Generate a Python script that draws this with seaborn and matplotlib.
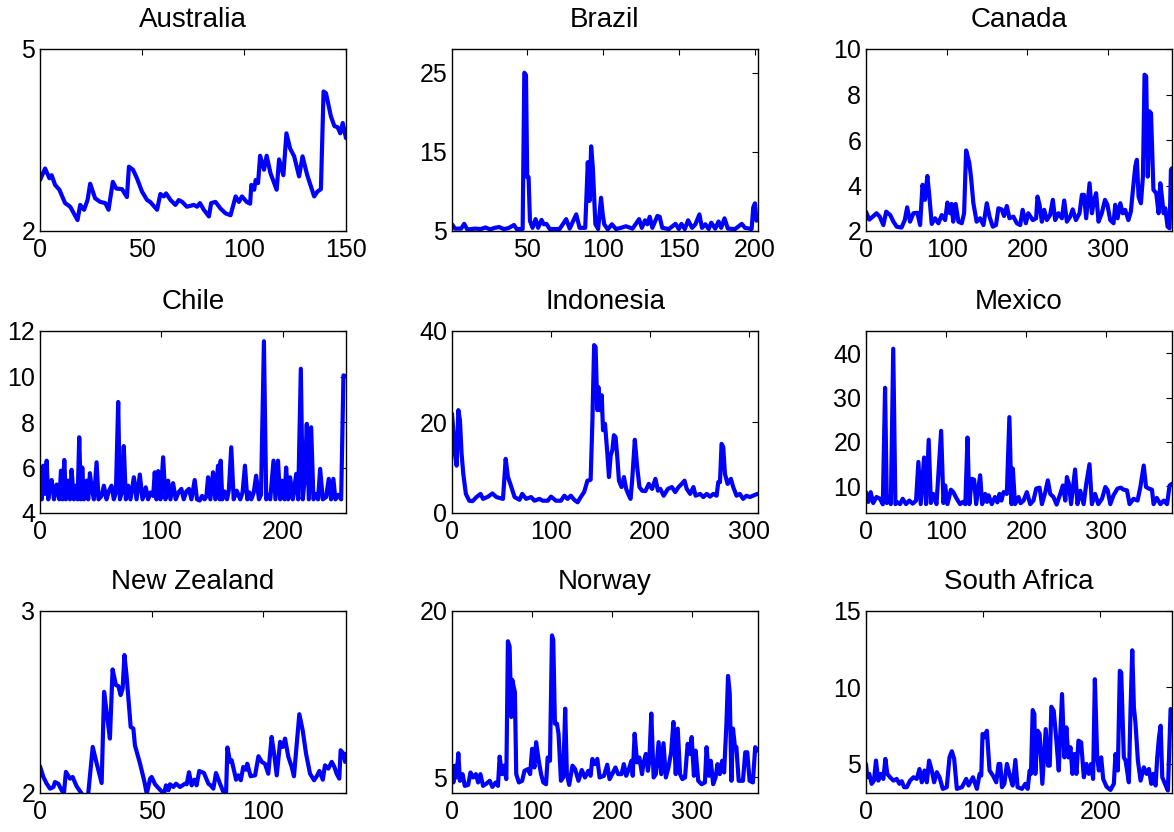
import numpy as np
import pandas as pd
import seaborn as sns
import matplotlib
matplotlib.use('Agg')
import matplotlib.pyplot as plt

# (time index, value) pairs, one list per country
australia = [(0, 2.84), (2.5, 3.03), (4.6, 2.87), (5.7, 2.92), (7.4, 2.76), (9.5, 2.68), (12.3, 2.46),
             (14.8, 2.40), (18.4, 2.18), (19.7, 2.43), (21.6, 2.35), (23.3, 2.51), (24.6, 2.78), (27, 2.54),
             (29.5, 2.48), (32, 2.46), (33.6, 2.35), (35.7, 2.81), (37.4, 2.70), (40.2, 2.69), (42.6, 2.56),
             (43.6, 3.06), (45.6, 3.01), (47.5, 2.87), (50, 2.65), (52.5, 2.51), (54, 2.48), (57.4, 2.35),
             (59, 2.61), (60.7, 2.57), (61.8, 2.62), (64, 2.51), (66.4, 2.43), (68, 2.51), (69.7, 2.48),
             (72, 2.40), (75.4, 2.43), (77, 2.40), (78.4, 2.46), (80.3, 2.35), (82.8, 2.24), (83.9, 2.46),
             (86, 2.48), (88.5, 2.37), (91, 2.29), (93.4, 2.26), (95.9, 2.57), (97.5, 2.48), (99, 2.57),
             (101.3, 2.48), (103, 2.45), (103.6, 2.76), (105, 2.68), (105.7, 2.84), (106.9, 2.79),
             (107.9, 3.24), (109.8, 3.01), (111.1, 3.24), (113, 2.95), (116, 2.68), (117.2, 3.18),
             (119.3, 2.92), (120.8, 3.61), (122.6, 3.36), (124.6, 3.23), (127, 2.90), (128.7, 3.23),
             (131, 2.92), (134.4, 2.57), (136, 2.65), (137.7, 2.69), (139, 4.30), (140.2, 4.27),
             (142.6, 3.89), (144.3, 3.73), (145.9, 3.71), (147.2, 3.61), (148.4, 3.78), (150, 3.53)]

brazil = [(1, 5.85), (3, 5.3), (7, 5.3), (9, 5.9), (11, 5.2), (16, 5.3), (20, 5.25), (23, 5.45), (26, 5.2),
          (29, 5.4), (32, 5.5), (35, 5.25), (38, 5.35), (41.7, 5.76), (43.5, 5.25), (47.4, 5.25), (48.5, 25),
          (49.6, 24.7), (50.4, 11.8), (51.3, 11.8), (52.2, 6.3), (53.9, 5.4), (55.9, 6.5), (57.6, 5.4),
          (59.8, 6.4), (61.3, 5.85), (63, 5.9), (65.2, 5.25), (71.7, 5.25), (76, 6.5), (78.3, 5.3),
          (82.6, 7.1), (84.8, 5.4), (88.5, 5.4), (90.2, 13.7), (91.3, 8.8), (92.4, 15.7), (93.5, 13),
          (95.2, 5.85), (97, 5.25), (98.9, 9.2), (100, 7.1), (101, 5.85), (103.3, 5.2), (106, 5.85),
          (108.7, 5.25), (112, 5.4), (115.2, 5.6), (119.6, 5.3), (123.9, 6.5), (125.7, 5.4), (127.8, 6.35),
          (129.3, 5.85), (130.9, 6.8), (132.6, 5.4), (135.9, 6.9), (137.4, 6.8), (139.1, 5.4), (143.5, 5.25),
          (147.8, 5.9), (150, 5.25), (151.7, 5.9), (153.9, 5.25), (156.1, 6.35), (158.7, 5.4), (160.9, 5.85),
          (163.5, 7.1), (165.2, 5.4), (167.4, 5.85), (169.6, 5.25), (171.3, 6.05), (173.9, 5.3), (176.1, 6.2),
          (177.8, 5.4), (180, 6.6), (182.2, 5.3), (187, 5.25), (191.3, 5.9), (193.5, 5.4), (197.8, 5.25),
          (198.9, 8), (200, 8.5), (201, 6.3)]

canada = [(0, 2.85), (4, 2.5), (9, 2.65), (13, 2.78), (17, 2.63), (21.5, 2.26), (25, 2.85), (30, 2.7),
          (34, 2.41), (38, 2.19), (44, 2.15), (48, 2.48), (51, 3.04), (54.5, 2.41), (58.7, 2.78), (63.6, 2.8),
          (67, 2.26), (70, 4.03), (73, 3.37), (76, 4.42), (78.5, 3.51), (81.4, 2.31), (85.5, 2.56),
          (89.7, 2.34), (93.8, 2.7), (98, 2.48), (100.8, 3.25), (104, 2.78), (106, 3.19), (108, 2.41),
          (111, 3.19), (114.5, 2.41), (118.6, 2.34), (121.5, 2.78), (124, 5.54), (126, 5.27), (128, 4.98),
          (130, 4.39), (133, 3.22), (137, 2.41), (141.3, 2.56), (145.5, 2.26), (149.6, 3.22), (153, 2.63),
          (157, 2.19), (161, 2.26), (164, 3.0), (168, 2.95), (171, 2.66), (174.4, 3.1), (177.7, 2.56),
          (182.6, 2.63), (186.8, 2.34), (191, 2.26), (194, 2.93), (198, 2.34), (201, 2.78), (206.6, 2.48),
          (210.7, 2.56), (212.4, 3.51), (215, 3.15), (217.8, 2.41), (220.7, 2.93), (224, 2.48), (228, 2.7),
          (231.4, 3.37), (234.3, 2.48), (238.4, 2.78), (242.6, 2.56), (245.5, 3.34), (248.8, 2.41),
          (252.9, 2.63), (256, 2.95), (260, 2.48), (264.5, 2.78), (267.4, 3.59), (270, 3.59), (272.7, 2.56),
          (276.9, 4.1), (279.8, 2.78), (282.6, 3.37), (285, 3.66), (288, 2.41), (292, 2.78), (296, 3.37),
          (299, 3.15), (302.5, 2.48), (306.6, 2.34), (308.7, 3.15), (311.6, 2.56), (315, 3.22), (318, 2.78),
          (321, 2.93), (325, 2.48), (328, 2.85), (330.6, 3.81), (333.5, 4.83), (335.5, 5.13), (337.6, 3.51),
          (340.5, 3.22), (343, 4.39), (345, 8.87), (347, 8.8), (349, 4.39), (351, 7.26), (353, 7.18),
          (356, 3.81), (359.5, 3.66), (362.4, 2.78), (364.5, 4.1), (366.5, 3.51), (368.6, 2.78), (370.7, 3.0),
          (373.5, 2.19), (376, 2.12), (377.7, 4.69), (379, 4.76)]

chile = [(0, 4.84), (0.5, 5.2), (1.4, 4.6), (2.7, 6.08), (4.1, 4.84), (5.5, 6.3), (6.8, 4.6), (8.2, 5.2),
         (9.6, 5.45), (11.5, 4.6), (13.7, 5.25), (15.9, 4.6), (17.3, 5.86), (18.6, 4.6), (20, 6.33),
         (21.4, 4.6), (23.3, 5.42), (24.7, 4.6), (26, 5.9), (27.9, 4.6), (29.6, 5.2), (31, 4.6), (32.3, 7.33),
         (33.7, 4.6), (34.8, 6.0), (36.2, 4.6), (38.4, 5.42), (39.7, 4.6), (41.1, 5.75), (42.5, 5.1),
         (44.4, 4.6), (46.6, 6.23), (48.2, 4.6), (50.7, 4.75), (52.6, 5.2), (54.8, 4.6), (56.6, 4.95),
         (58.9, 5.2), (60.8, 4.6), (62.5, 4.9), (64.4, 8.88), (65.8, 4.6), (67.3, 4.9), (69, 6.94),
         (70.7, 4.6), (72.6, 5.2), (74.5, 4.6), (77.3, 5.57), (79.5, 4.6), (82.2, 5.69), (84.4, 4.6),
         (87.1, 5.13), (89, 4.6), (91, 4.9), (93.2, 4.75), (94.5, 5.79), (95.9, 4.6), (97.3, 5.84),
         (99.2, 4.6), (101.4, 6.45), (103.3, 4.6), (105.5, 5.42), (107.4, 4.6), (109.6, 5.31), (111.8, 4.6),
         (114, 4.9), (116.4, 5.06), (118.4, 4.6), (120.5, 4.95), (122.7, 5.06), (124.7, 4.6), (127.4, 5.45),
         (129.3, 4.6), (131.5, 4.55), (133.5, 4.75), (135.5, 4.6), (137, 4.72), (138.4, 5.57), (140.3, 4.6),
         (142.5, 5.79), (144.4, 4.6), (146.6, 6.08), (148, 4.6), (148.8, 6.3), (150.1, 4.6), (152, 4.95),
         (154, 4.6), (155.5, 5.0), (157.5, 6.89), (159.5, 4.6), (162, 4.98), (164.9, 4.6), (166.8, 4.9),
         (168.8, 6.08), (170.7, 4.6), (172.5, 4.9), (174, 4.6), (176, 4.9), (178, 5.64), (180.3, 4.6),
         (182, 4.8), (184.4, 11.55), (186.3, 4.6), (188, 4.8), (189.6, 4.6), (192.3, 6.3), (193.9, 4.6),
         (196, 6.3), (197.8, 4.6), (199.5, 5.42), (201.4, 4.6), (202.7, 6.0), (204.4, 4.6), (206, 5.57),
         (208.2, 4.6), (211, 5.72), (212.6, 4.6), (214.8, 10.34), (216.4, 4.6), (218, 5.5), (219.7, 7.92),
         (221.4, 4.6), (223.3, 7.77), (225.2, 4.6), (227.4, 4.84), (229, 4.6), (230.7, 5.94), (232.9, 4.6),
         (235.6, 4.7), (237.8, 5.5), (239.7, 4.6), (241.6, 5.5), (243.3, 4.6), (245.5, 4.8), (248, 4.6),
         (249.9, 10.05), (252, 10.0)]

indonesia = [(0, 21.8), (1.3, 18.2), (3, 13), (4.7, 10.4), (6.4, 22.6), (8, 20.4), (9.7, 13), (11.4, 8.6),
             (14, 4.2), (17.4, 2.7), (20.7, 2.6), (24.7, 3.5), (28.8, 4.2), (31.4, 3.1), (36.5, 3.6),
             (40.8, 4.3), (44.8, 3.5), (51.5, 3.1), (54.2, 11.9), (56.5, 7.9), (58.9, 6.4), (63.2, 3.5),
             (68.2, 2.9), (70.9, 4.2), (74.9, 3.1), (79.9, 3.5), (83.3, 2.7), (88.3, 3.1), (91.6, 2.7),
             (96.7, 2.7), (100, 3.6), (105, 2.7), (110, 2.7), (113.4, 3.8), (116.7, 3.1), (120, 3.8),
             (123.4, 2.9), (126.8, 2.35), (130, 3.5), (133.4, 4.6), (136.8, 7.1), (140, 7.3), (141.8, 20.4),
             (143.5, 36.9), (145, 36.5), (146.8, 22.6), (147.8, 27.7), (149.2, 22.6), (151.2, 25.9),
             (152.5, 18.2), (154.5, 19.6), (156.9, 13), (158.5, 7.9), (160.2, 12.6), (161.9, 13.8),
             (163.5, 17.1), (165.2, 16.7), (166.9, 12.3), (168.6, 7.1), (171.2, 5.7), (173.6, 7.9),
             (175.9, 5.3), (177.9, 4.2), (180.3, 3.1), (181.9, 7.1), (184.6, 16.1), (187, 10.1), (189.3, 5.7),
             (192, 4.9), (195.3, 4.8), (198.7, 6.4), (202, 5.3), (205.4, 7.5), (208, 4.9), (210.4, 5.3),
             (213.7, 3.8), (218, 5.3), (222, 5.7), (225.4, 4.6), (228.8, 5.7), (232, 6.4), (234.8, 7.1),
             (237, 5.3), (240.5, 4.2), (243.8, 5.7), (246, 3.8), (250.5, 4.2), (253.8, 3.5), (257.2, 4.2),
             (260.5, 3.6), (263.9, 4.2), (267.2, 3.8), (268.9, 6.8), (270.6, 6.8), (272.2, 15.2),
             (273.9, 14.5), (275.6, 8.6), (278.3, 6.4), (281.6, 7.5), (284, 5.7), (287.3, 3.8), (290.6, 4.2),
             (294, 3.1), (297.3, 3.8), (300.7, 3.5), (304, 3.8), (308.4, 4.2)]

mexico = [(0, 8.7), (3, 6.5), (5.8, 8.7), (9, 6.25), (13, 7.6), (17.5, 7.2), (21, 5.95), (23.8, 32.2),
          (26, 6.25), (29, 7.6), (31, 6.0), (34, 41), (36.7, 6.0), (39.5, 6.4), (42.5, 6.0), (45.8, 7.2),
          (50, 6.0), (54, 6.8), (58.3, 6.1), (62.5, 6.8), (65.4, 15.5), (68.3, 6.0), (72.5, 16.5), (75, 6.0),
          (78.3, 20.5), (81, 6.25), (84, 8.3), (88, 6.0), (93.8, 22.5), (96.7, 6.25), (98.8, 10.2),
          (101.7, 6.0), (106, 9.25), (109, 8.7), (113.3, 7.2), (117.5, 6.0), (121, 6.5), (124, 6.0),
          (126.7, 21), (129, 6.0), (132, 11.7), (135, 11.5), (137.5, 6.0), (142.5, 12.5), (145, 6.0),
          (148.8, 8.3), (151, 6.5), (153, 8.0), (157, 6.0), (161, 7.6), (164, 6.4), (166.7, 8.3),
          (169, 6.8), (171.7, 8.7), (175.8, 8.3), (179, 25.6), (181.7, 6.0), (183.3, 14), (186, 6.0),
          (190.4, 7.6), (193, 6.2), (196.7, 6.8), (200.8, 8.7), (205, 6.0), (209, 6.8), (212.5, 9.5),
          (216.7, 9.7), (219.6, 6.0), (223.8, 8.7), (227, 11.35), (230, 8.3), (234, 7.6), (238, 5.9),
          (242.5, 8.3), (245.8, 10.2), (248.8, 6.8), (250.8, 12.1), (253.3, 10.6), (256, 6.0), (261, 13.8),
          (264, 6.0), (267.5, 9), (271.7, 6.0), (275, 10.6), (279, 15), (282, 6.0), (286, 8.3), (290, 6.0),
          (294.6, 7.2), (298.8, 9.85), (301.7, 9.1), (305, 6.0), (309, 8.0), (314, 9.5), (318, 9.7),
          (321.7, 9.25), (325.8, 9.1), (329, 6.0), (334, 7.2), (339, 6.8), (342.5, 9.85), (346.7, 14.7),
          (349.6, 9.85), (353, 9.5), (357, 9.25), (359, 6.0), (363, 7.4), (367.5, 6.0), (371.7, 6.8),
          (375.8, 6.0), (379, 10.2), (382, 10.6)]

new_zealand = [(0, 2.147), (1.5, 2.088), (3, 2.051), (4.5, 2.024), (6, 2.033), (6.7, 2.06), (8.2, 2.051),
               (9.7, 2.015), (10.7, 1.996), (11.6, 2.116), (13.4, 2.079), (14.6, 2.088), (16.4, 2.037),
               (18.7, 1.996), (20, 1.96), (21.6, 1.996), (23.6, 2.253), (25.4, 2.161), (27.6, 2.055),
               (28.7, 2.556), (30.1, 2.418), (31.3, 2.299), (32.5, 2.679), (34, 2.593), (35.1, 2.587),
               (36.1, 2.538), (37, 2.574), (37.8, 2.758), (38.8, 2.639), (40.6, 2.363), (41.8, 2.354),
               (42.5, 2.262), (44.8, 2.161), (46.6, 2.07), (47.8, 1.996), (49.3, 2.079), (50, 2.088),
               (51.5, 2.048), (53.7, 2.018), (55.5, 1.996), (56.4, 2.042), (57.5, 2.015), (58.2, 2.048),
               (59.7, 2.033), (60.9, 2.051), (62.7, 2.033), (64.9, 2.051), (65.7, 2.048), (66.7, 2.114),
               (67.9, 2.042), (69.1, 2.073), (70.1, 2.042), (71.3, 2.121), (73.4, 2.11), (75.4, 2.051),
               (76.4, 2.042), (77.6, 2.024), (78.8, 2.11), (80.6, 2.051), (82.4, 1.996), (83.3, 1.996),
               (83.9, 2.25), (85.1, 2.171), (85.8, 2.18), (87.8, 2.073), (88.8, 2.097), (89.9, 2.07),
               (91, 2.143), (92.2, 2.128), (92.8, 2.161), (94.3, 2.092), (96.3, 2.097), (97.8, 2.202),
               (99.3, 2.171), (100.7, 2.161), (102.2, 2.106), (103.7, 2.308), (104.8, 2.217), (106, 2.097),
               (107.5, 2.281), (108.7, 2.253), (109.7, 2.299), (111.2, 2.198), (112.7, 2.143), (113.7, 2.092),
               (116.1, 2.433), (117.6, 2.345), (119.1, 2.217), (120.9, 2.106), (122.7, 2.07), (123.9, 2.092),
               (125.1, 2.121), (126.6, 2.073), (127.6, 2.152), (129.1, 2.134), (130.6, 2.171), (131.8, 2.143),
               (132.8, 2.106), (134, 2.079), (134.6, 2.235), (135.8, 2.217), (136.6, 2.171), (137.3, 2.217)]

norway = [(0, 6.06), (1.7, 4.55), (3.7, 6.06), (5.8, 5.0), (7.9, 7.18), (9.9, 4.7), (13.2, 5.3), (16, 4.24),
          (20.2, 4.33), (23.1, 5.45), (26.4, 5.0), (29.8, 5.3), (32.6, 4.55), (35.5, 5.3), (38.8, 4.24),
          (43, 4.45), (47.1, 4.7), (50.4, 4.15), (54.5, 4.55), (57.4, 4.24), (59.5, 6.88), (62.4, 5.3),
          (64.9, 6.06), (67.8, 4.85), (69.8, 17.27), (71.9, 16.8), (74, 10.45), (75.2, 13.8), (76.9, 13.2),
          (78.5, 12.7), (80.2, 5.3), (83.5, 4.55), (87.6, 4.7), (90.5, 5.6), (94.6, 5.75), (97.5, 5.3),
          (100, 7.58), (102.9, 5.9), (105, 8.18), (108.3, 6.5), (111.2, 5.3), (114, 4.55), (117.4, 4.39),
          (119.4, 6.8), (122.3, 6.5), (124.8, 17.8), (126.4, 17.4), (128.5, 9.85), (131, 9.85), (133, 8.94),
          (136, 4.7), (138.8, 5.0), (141.3, 11.2), (143.4, 5.3), (146.3, 4.33), (150.4, 6.06), (153.7, 5.75),
          (157.9, 4.7), (162, 5.67), (166, 5.0), (170.2, 5.6), (173, 5.15), (175.2, 6.67), (178.5, 6.2),
          (181.4, 6.67), (184.3, 5.0), (189.7, 5.15), (193.8, 6.15), (196.7, 4.85), (200, 5.3), (204, 5.9),
          (207.4, 5.3), (211.6, 5.3), (214.5, 6.2), (217.4, 5.15), (220.7, 5.75), (224, 6.5), (225.6, 5.15),
          (228, 8.94), (231, 6.36), (233.9, 6.8), (237.2, 5.3), (239.3, 6.36), (242, 7.12), (244.6, 5.6),
          (246.3, 6.5), (248.8, 10.76), (251.7, 5.0), (254.5, 5.3), (257.9, 8.18), (261.2, 5.3), (264, 8.09),
          (267, 5.0), (270.2, 5.9), (273.6, 7.27), (276.4, 10), (279.3, 5.3), (281.8, 9.4), (284.7, 5.3),
          (287.6, 4.85), (290.9, 5.0), (294.2, 8.03), (297.1, 7.12), (299.2, 8.64), (302, 5.15),
          (304.1, 7.42), (307.4, 4.7), (311.6, 4.39), (315.7, 4.55), (317.8, 7.73), (320.7, 5.15),
          (323.1, 6.5), (326, 4.39), (329, 5.0), (331.4, 6.2), (334.3, 5.3), (337.2, 6.5), (339.7, 5.45),
          (342.6, 9.85), (344.6, 14.15), (346.7, 12.6), (348.8, 4.7), (350.8, 9.4), (353, 7.88), (355, 7.73),
          (357.9, 4.7), (363.2, 4.7), (366.1, 7.27), (368.6, 7.27), (371.5, 4.7), (375.6, 4.55), (378.5, 7.73),
          (381, 7.42)]

south_africa = [(0, 5.0), (1.1, 4.13), (2.8, 4.35), (4.8, 3.7), (6.8, 3.91), (8.5, 5.22), (10.5, 3.91),
                (12.5, 4.35), (14.8, 4.02), (16.5, 5.33), (18.2, 4.35), (20.5, 4.13), (23.4, 3.91), (26.2, 4.02),
                (28.5, 3.7), (30.5, 3.87), (32.5, 3.48), (34.8, 3.48), (37.6, 3.91), (40.5, 4.13), (43.3, 4.02),
                (45.6, 4.67), (47.6, 3.8), (49.9, 4.57), (51.9, 3.8), (53.8, 5.22), (56.1, 4.57), (58.1, 3.8),
                (60.4, 4.46), (62.7, 4.13), (65.5, 3.37), (68.9, 3.48), (71.2, 5.43), (73.2, 5.83), (75.2, 5.33),
                (77.5, 3.37), (81.8, 3.48), (85.5, 4.02), (87.5, 3.59), (91.2, 4.13), (94.6, 3.37), (96.9, 4.35),
                (98.3, 4.24), (99.4, 6.96), (100.9, 6.74), (103.1, 7.17), (105.4, 4.57), (108.3, 4.24),
                (111.1, 3.8), (113.1, 5.0), (114.5, 5.0), (116, 3.48), (118, 3.7), (120.2, 5.0), (123.1, 4.13),
                (125.1, 3.59), (127.4, 5.26), (129.3, 3.48), (133, 3.37), (135.9, 3.7), (137.9, 3.37),
                (139.6, 4.57), (140.7, 4.35), (142.2, 8.52), (143.6, 8.26), (144.4, 4.35), (146.4, 7.17),
                (148.1, 6.96), (150.4, 3.7), (153.3, 7.28), (155.3, 4.89), (156.7, 4.89), (158.1, 8.74),
                (160.1, 8.48), (162.4, 6.52), (164.4, 4.57), (167.2, 9.57), (169.2, 5.43), (170.9, 7.39),
                (172.6, 5.43), (174.4, 6.09), (176.1, 4.35), (177.8, 5.65), (179.5, 4.35), (181.2, 6.52),
                (183.5, 6.41), (185.8, 4.13), (188, 5.0), (190, 4.35), (192, 5.0), (193.7, 4.02), (195.2, 10.54),
                (197.2, 5.43), (198.6, 4.57), (200.6, 5.43), (202.3, 4.02), (205.1, 3.52), (208.5, 3.3),
                (211.4, 3.7), (212.8, 5.65), (214.8, 4.57), (216.5, 11.09), (217.7, 10.98), (219.9, 5.43),
                (221.4, 5.22), (224.2, 3.8), (225.6, 8.48), (227.1, 12.43), (228.5, 8.7), (229.9, 7.61),
                (231.9, 5.22), (234.2, 3.91), (237, 4.78), (239.3, 4.35), (241.3, 4.67), (243.3, 3.7),
                (245, 4.35), (247, 3.59), (248.4, 5.43), (249.9, 6.74), (251.3, 7.5), (252.7, 4.13),
                (255.6, 3.59), (257.5, 3.26), (259.8, 8.59), (261.3, 8.48)]

countries = ['Australia', 'Brazil', 'Canada', 'Chile', 'Indonesia', 'Mexico',
             'New Zealand', 'Norway', 'South Africa']
series = [australia, brazil, canada, chile, indonesia, mexico, new_zealand, norway, south_africa]

x_limits = [(0, 150), (1, 202), (0, 379), (0, 252), (0, 309), (0, 382), (0, 137), (0, 382), (0, 261)]
y_limits = [(2, 5), (5, 28), (2, 10), (4, 12), (0, 40), (4, 45), (2, 3), (3.6, 20), (3.1, 15)]
x_ticks = [[0, 50, 100, 150], [50, 100, 150, 200], [0, 100, 200, 300], [0, 100, 200],
           [0, 100, 200, 300], [0, 100, 200, 300], [0, 50, 100], [0, 100, 200, 300], [0, 100, 200]]
y_ticks = [[2, 5], [5, 15, 25], [2, 4, 6, 8, 10], [4, 6, 8, 10, 12], [0, 20, 40],
           [10, 20, 30, 40], [2, 3], [5, 20], [5, 10, 15]]

frames = []
for name, pts in zip(countries, series):
    d = pd.DataFrame(pts, columns=['t', 'value'])
    d['Country'] = name
    frames.append(d)
full_data = pd.concat(frames, ignore_index=True)

sns.set_theme(style='white')
plt.rcParams['font.family'] = ['Liberation Sans', 'DejaVu Sans']
plt.rcParams['text.color'] = 'black'
plt.rcParams['xtick.color'] = 'black'
plt.rcParams['ytick.color'] = 'black'
plt.rcParams['xtick.direction'] = 'in'
plt.rcParams['ytick.direction'] = 'in'
plt.rcParams['xtick.top'] = True
plt.rcParams['ytick.right'] = True

fig = plt.figure(figsize=(11.74, 8.32), dpi=100)
W, H = 1174, 832
lefts = [40, 452, 866]
tops = [49, 331, 611]
aw, ah = 306, 182

for i, name in enumerate(countries):
    r, c = divmod(i, 3)
    ax = fig.add_axes([lefts[c] / W, 1 - (tops[r] + ah) / H, aw / W, ah / H])
    sns.lineplot(data=full_data[full_data['Country'] == name], x='t', y='value', ax=ax,
                 color='#0000ff', linewidth=3, estimator=None, sort=False)
    ax.set_xlim(*x_limits[i])
    ax.set_ylim(*y_limits[i])
    ax.set_xticks(x_ticks[i])
    ax.set_yticks(y_ticks[i])
    ax.set_xlabel('')
    ax.set_ylabel('')
    ax.set_title(name, fontsize=20, pad=16, color='black')
    ax.tick_params(axis='both', labelsize=18, length=4, width=0.8, color='black',
                   labelcolor='black', top=True, right=True)
    ax.tick_params(axis='x', pad=5)
    ax.tick_params(axis='y', pad=3.5)
    for s in ax.spines.values():
        s.set_color('black')
        s.set_linewidth(1)

fig.savefig('out.png', dpi=100)
